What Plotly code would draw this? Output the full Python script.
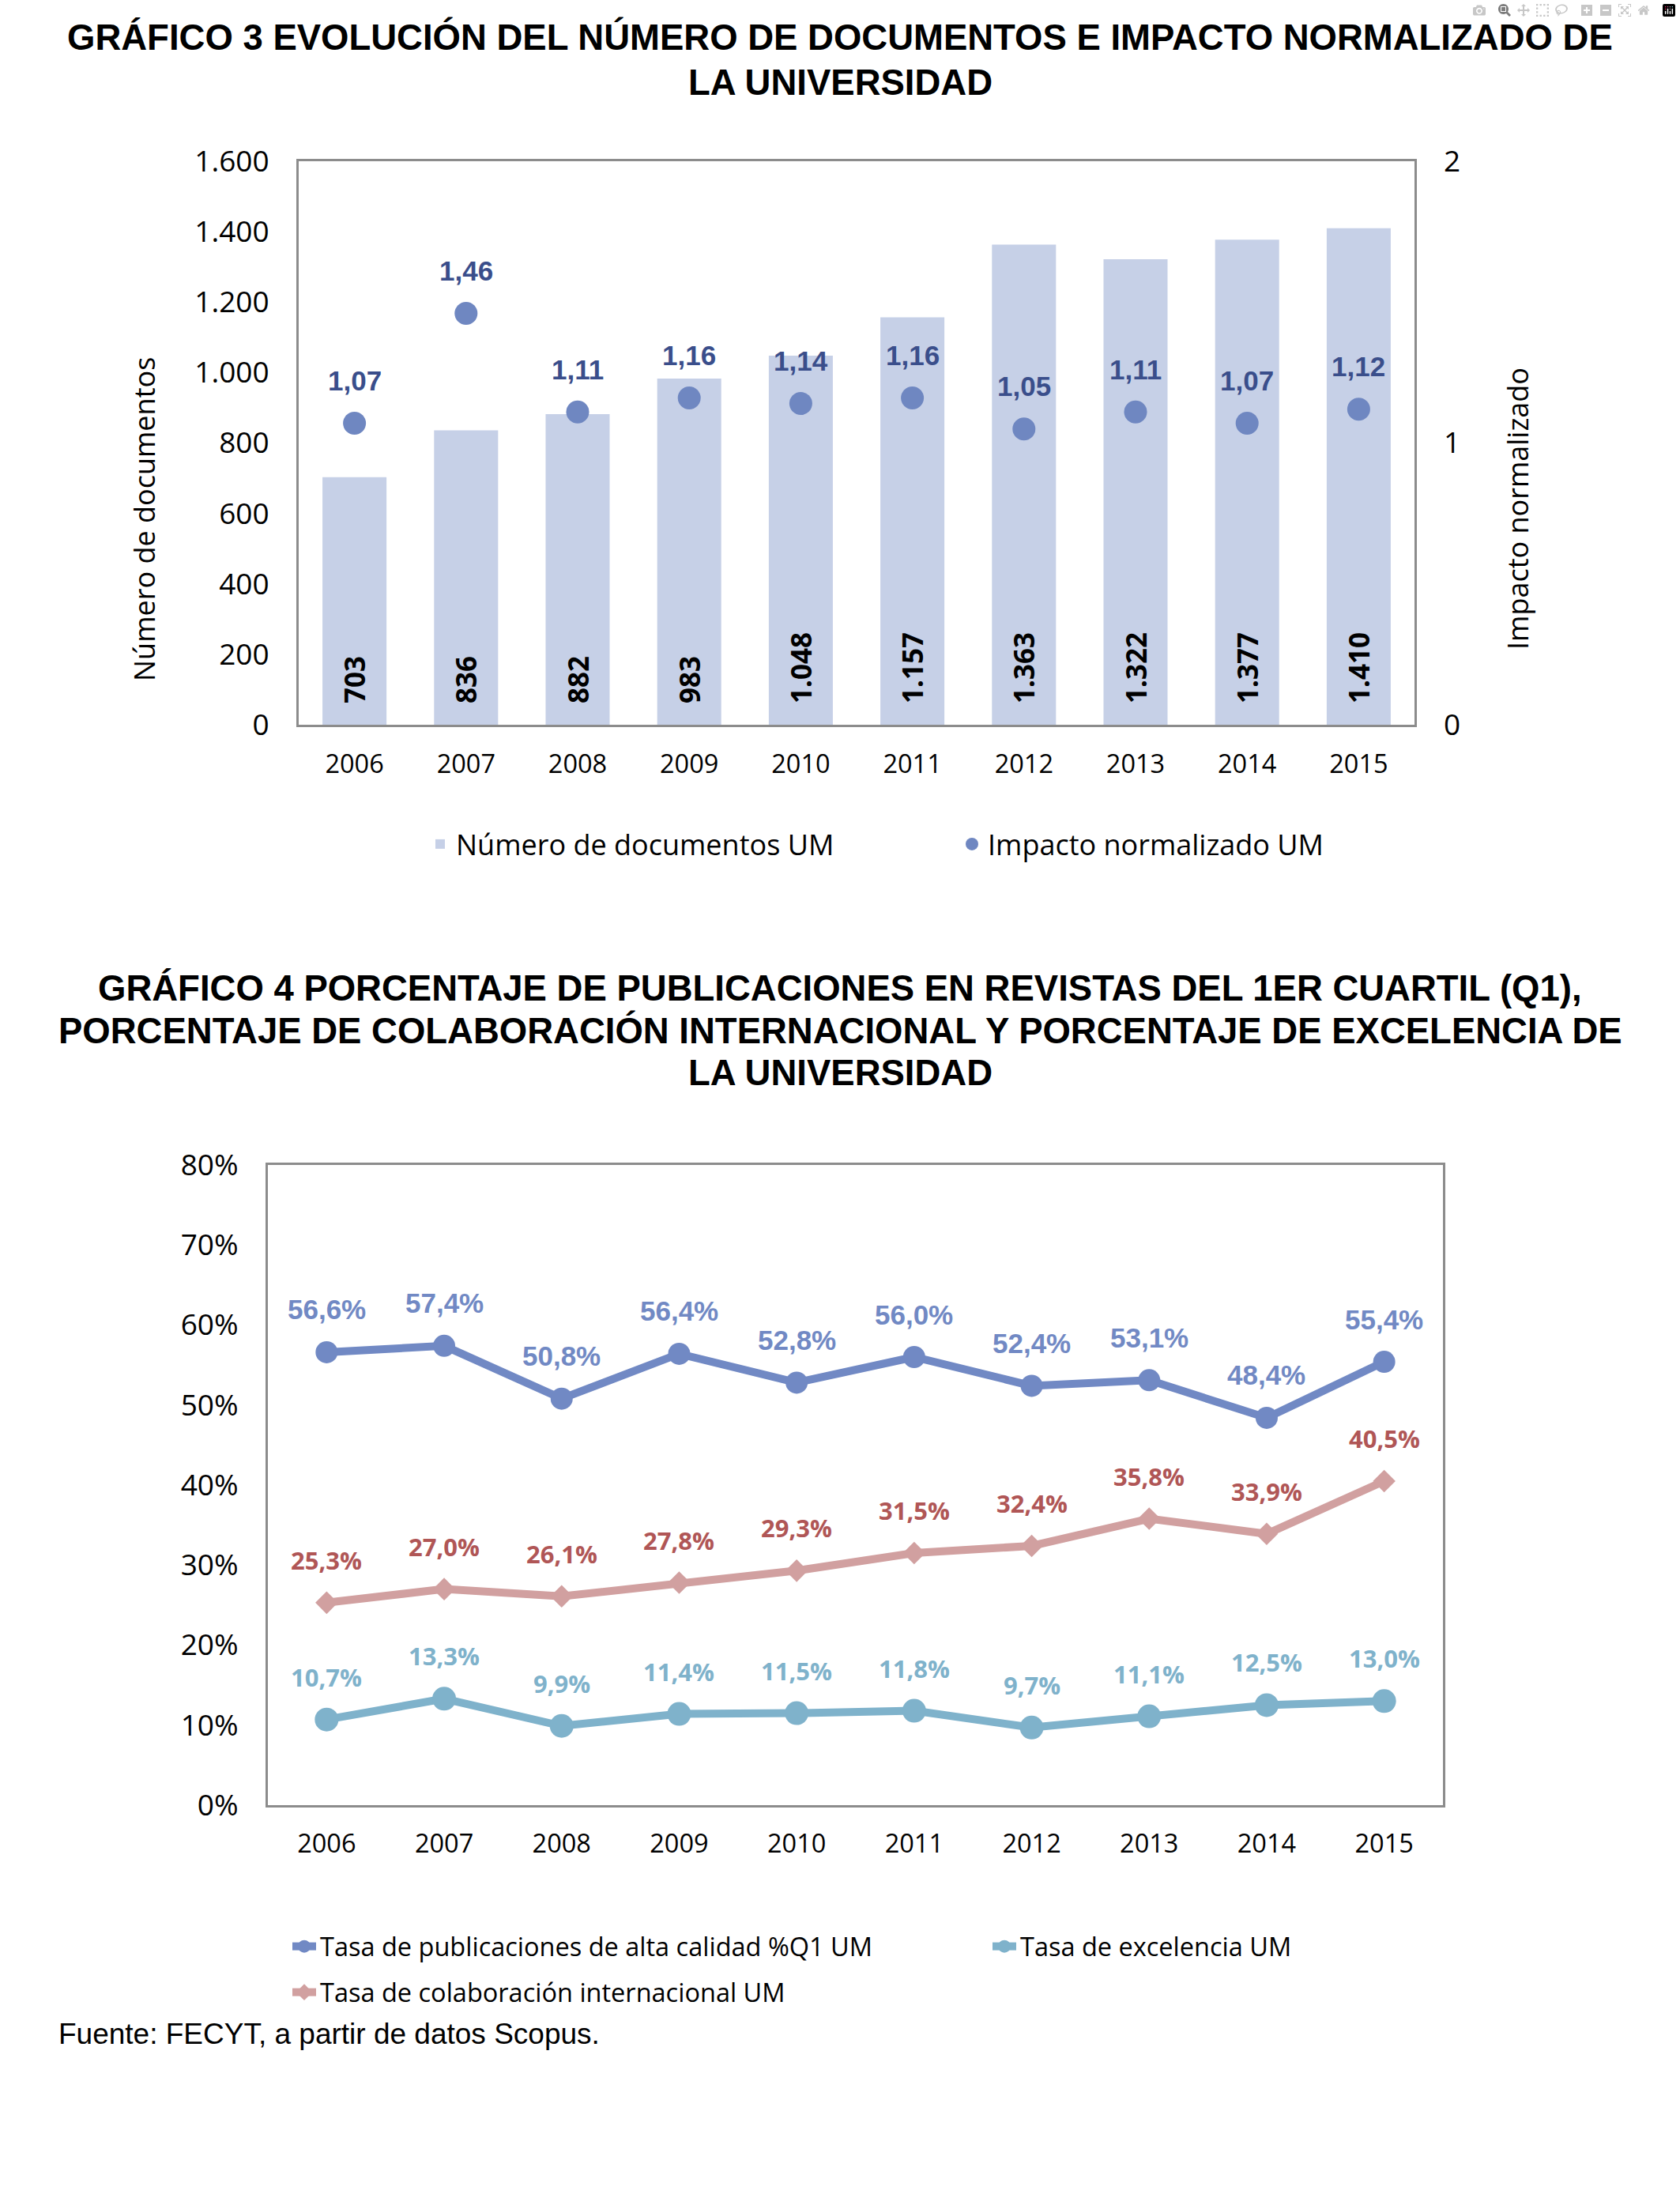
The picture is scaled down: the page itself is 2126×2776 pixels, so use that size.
import plotly.graph_objects as go

W, H = 2126, 2776

# ---------------- data ----------------
years = ["2006", "2007", "2008", "2009", "2010", "2011", "2012", "2013", "2014", "2015"]
documentos = [703, 836, 882, 983, 1048, 1157, 1363, 1322, 1377, 1410]
impacto = [1.07, 1.46, 1.11, 1.16, 1.14, 1.16, 1.05, 1.11, 1.07, 1.12]
tasa_q1 = [56.6, 57.4, 50.8, 56.4, 52.8, 56.0, 52.4, 53.1, 48.4, 55.4]
tasa_colab = [25.3, 27.0, 26.1, 27.8, 29.3, 31.5, 32.4, 35.8, 33.9, 40.5]
tasa_excel = [10.7, 13.3, 9.9, 11.4, 11.5, 11.8, 9.7, 11.1, 12.5, 13.0]

title1 = ["GRÁFICO 3 EVOLUCIÓN DEL NÚMERO DE DOCUMENTOS E IMPACTO NORMALIZADO DE",
          "LA UNIVERSIDAD"]
title2 = ["GRÁFICO 4 PORCENTAJE DE PUBLICACIONES EN REVISTAS DEL 1ER CUARTIL (Q1),",
          "PORCENTAJE DE COLABORACIÓN INTERNACIONAL Y PORCENTAJE DE EXCELENCIA DE",
          "LA UNIVERSIDAD"]
fuente = "Fuente: FECYT, a partir de datos Scopus."

# ---------------- styles ----------------
C_BAR = "#C6D0E7"
C_DOT = "#6F87C1"
C_DOT_LBL = "#3A4E8B"
C_Q1 = "#7189C4"
C_COL = "#D1A0A0"
C_COL_LBL = "#B05656"
C_EXC = "#7FB2CB"
C_FRAME = "#8C8C8C"
SANS = "Open Sans"
ARIAL = "Liberation Sans"


def px(x):
    return x / W


def py(y):
    return 1 - y / H


def dec(v, nd):
    return f"{v:.{nd}f}".replace(".", ",")


def thou(v):
    return f"{v:,}".replace(",", ".")


fig = go.Figure()

# ---- chart 1 ----
fig.add_trace(go.Bar(
    x=years, y=documentos, name="Número de documentos UM",
    marker=dict(color=C_BAR, line=dict(width=0)),
    text=["\u00a0\u00a0\u2009" + thou(v) for v in documentos],
    textposition="inside", insidetextanchor="start", textangle=-90,
    textfont=dict(family=SANS, size=35, color="black", weight="bold"),
    constraintext="none",
    xaxis="x", yaxis="y", legend="legend", width=0.574,
))
fig.add_trace(go.Scatter(
    x=years, y=impacto, name="Impacto normalizado UM", mode="markers",
    marker=dict(color=C_DOT, size=29),
    xaxis="x", yaxis="y2", legend="legend2",
))

# ---- chart 2 ----
fig.add_trace(go.Scatter(
    x=years, y=tasa_q1, name="Tasa de publicaciones de alta calidad %Q1 UM",
    mode="lines+markers", line=dict(color=C_Q1, width=10),
    marker=dict(symbol="circle", size=28, color=C_Q1),
    xaxis="x2", yaxis="y3", legend="legend3",
))
fig.add_trace(go.Scatter(
    x=years, y=tasa_excel, name="Tasa de excelencia UM",
    mode="lines+markers", line=dict(color=C_EXC, width=10),
    marker=dict(symbol="circle", size=30, color=C_EXC),
    xaxis="x2", yaxis="y3", legend="legend4",
))
fig.add_trace(go.Scatter(
    x=years, y=tasa_colab, name="Tasa de colaboración internacional UM",
    mode="lines+markers", line=dict(color=C_COL, width=10),
    marker=dict(symbol="diamond", size=22, color=C_COL),
    xaxis="x2", yaxis="y3", legend="legend5",
))

ann = []
# titles
for i, t in enumerate(title1):
    ann.append(dict(text=t, x=0.5, y=py([47, 105][i]), xref="paper", yref="paper",
                    xanchor="center", yanchor="middle", showarrow=False,
                    font=dict(family=ARIAL, size=45.5, color="black", weight="bold")))
for i, t in enumerate(title2):
    ann.append(dict(text=t, x=0.5, y=py([1250, 1304, 1357][i]), xref="paper", yref="paper",
                    xanchor="center", yanchor="middle", showarrow=False,
                    font=dict(family=ARIAL, size=45.5, color="black", weight="bold")))
# axis titles chart 1
ann.append(dict(text="Número de documentos", x=px(182), y=py(657), xref="paper", yref="paper",
                textangle=-90, showarrow=False, xanchor="center", yanchor="middle",
                font=dict(family=SANS, size=36, color="black")))
ann.append(dict(text="Impacto normalizado", x=px(1921), y=py(644), xref="paper", yref="paper",
                textangle=-90, showarrow=False, xanchor="center", yanchor="middle",
                font=dict(family=SANS, size=36, color="black")))
# data labels chart 1 (x given as category index)
LBL_SHIFT = 54
for i, v in enumerate(impacto):
    ann.append(dict(text=dec(v, 2), x=i, y=v, xref="x", yref="y2", yshift=LBL_SHIFT,
                    showarrow=False, xanchor="center", yanchor="middle",
                    font=dict(family=ARIAL, size=35, color=C_DOT_LBL, weight="bold")))
# data labels chart 2
for i, v in enumerate(tasa_q1):
    ann.append(dict(text=dec(v, 1) + "%", x=i, y=v, xref="x2", yref="y3", yshift=LBL_SHIFT,
                    showarrow=False, xanchor="center", yanchor="middle",
                    font=dict(family=ARIAL, size=35, color=C_Q1, weight="bold")))
for i, v in enumerate(tasa_colab):
    ann.append(dict(text=dec(v, 1) + "%", x=i, y=v, xref="x2", yref="y3", yshift=LBL_SHIFT,
                    showarrow=False, xanchor="center", yanchor="middle",
                    font=dict(family=SANS, size=31, color=C_COL_LBL, weight="bold")))
for i, v in enumerate(tasa_excel):
    ann.append(dict(text=dec(v, 1) + "%", x=i, y=v, xref="x2", yref="y3", yshift=LBL_SHIFT,
                    showarrow=False, xanchor="center", yanchor="middle",
                    font=dict(family=SANS, size=31, color=C_EXC, weight="bold")))
# source
ann.append(dict(text=fuente, x=px(72), y=py(2573), xref="paper", yref="paper",
                xanchor="left", yanchor="middle", showarrow=False,
                font=dict(family=ARIAL, size=37, color="black")))

xtickfont = dict(family=SANS, size=32.5, color="black")
ytickfont = dict(family=SANS, size=37, color="black")
frame = dict(showline=True, mirror=True, linecolor=C_FRAME, linewidth=3,
             showgrid=False, zeroline=False, ticks="")


def leg(x, y, size):
    return dict(orientation="h", x=px(x), y=py(y), xanchor="left", yanchor="middle",
                itemwidth=30, font=dict(family=SANS, size=size, color="black"),
                bgcolor="rgba(0,0,0,0)")


fig.update_layout(
    width=W, height=H,
    margin=dict(l=0, r=0, t=0, b=0, autoexpand=False),
    paper_bgcolor="white", plot_bgcolor="white",
    separators=",.",
    showlegend=True,
    annotations=ann,
    xaxis=dict(domain=[px(378), px(1790)], anchor="y", type="category",
               range=[-0.5, 9.5], tickfont=xtickfont, ticklabelstandoff=19, **frame),
    yaxis=dict(domain=[py(917), py(204)], anchor="x", range=[0, 1600], dtick=200,
               tickformat=",d", tickfont=ytickfont, ticklabelstandoff=27, **frame),
    yaxis2=dict(overlaying="y", side="right", anchor="x", range=[0, 2], dtick=1,
                showgrid=False, zeroline=False, showline=False, ticks="",
                tickfont=ytickfont, ticklabelstandoff=36),
    xaxis2=dict(domain=[px(339), px(1826)], anchor="y3", type="category",
                range=[-0.5, 9.5], tickfont=xtickfont, ticklabelstandoff=18, **frame),
    yaxis3=dict(domain=[py(2284), py(1474)], anchor="x2", range=[0, 80], dtick=10,
                ticksuffix="%", tickfont=ytickfont, ticklabelstandoff=27, **frame),
    legend=leg(537, 1068, 36),
    legend2=leg(1210, 1068, 36),
    legend3=leg(365, 2463, 32.5),
    legend4=leg(1251, 2463, 32.5),
    legend5=leg(365, 2521, 32.5),
    bargap=0.426,
)

fig.write_html("out.html", post_script="document.body.style.margin='0px';")
